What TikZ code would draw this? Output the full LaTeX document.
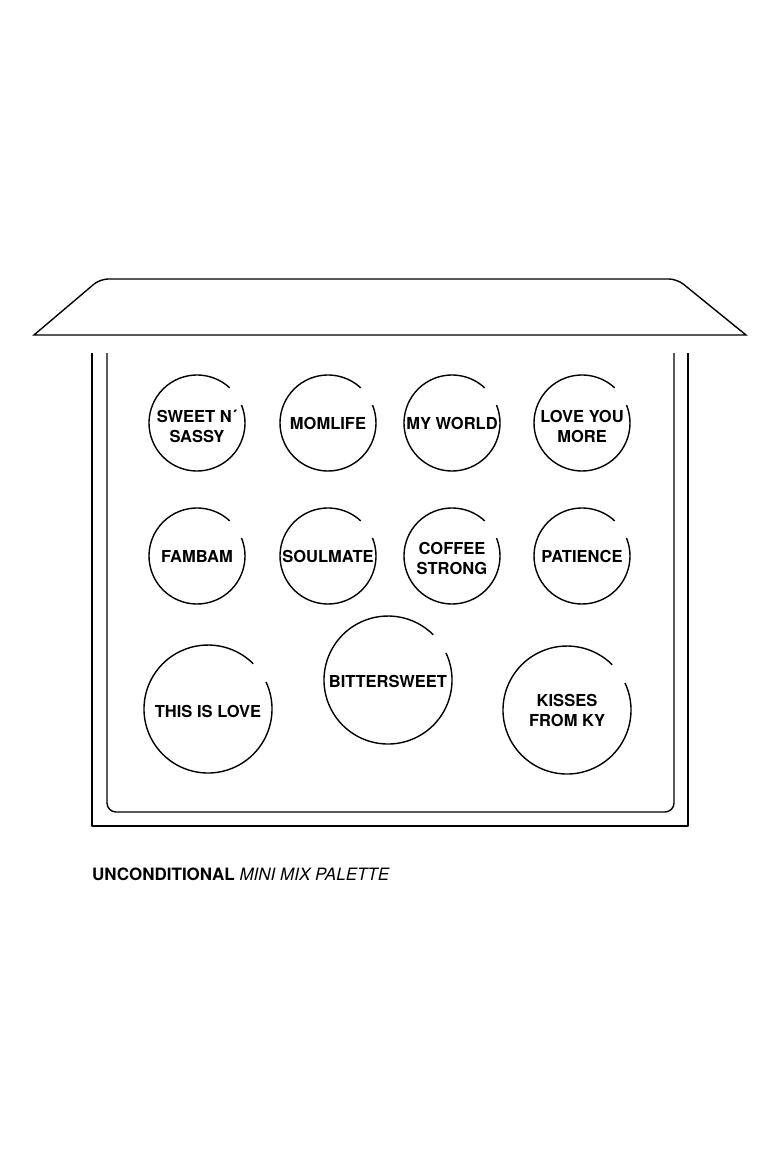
\documentclass[tikz,border=0pt]{standalone}
\usepackage{fontspec}
\setmainfont{TeX Gyre Heros}
\usepackage{tikz}

\tikzset{
  ligne/.style={line width=1.4pt, line join=round},
  nom/.style={align=center, font=\fontsize{16.5}{20}\selectfont\bfseries, inner sep=0pt}
}

\begin{document}
\begin{tikzpicture}[x=1pt,y=-1pt]
        \useasboundingbox (0,0) rectangle (780,1170);

        % Couvercle
        \draw[ligne,line join=miter] (34,335) [rounded corners=8pt]-- (100,279) -- (677,279) [sharp corners]-- (746,335) -- cycle;

        % Boitier
        \draw[ligne] (92,353) -- (92,826) -- (688,826) -- (688,353);
        \draw[ligne,rounded corners=9pt] (107,353) -- (107,812) -- (674,812) -- (674,353);

        % Godets, rangee 1
        \draw[ligne] (197,423) ++(-22:48) arc[start angle=-22, end angle=313, radius=48];
        \draw[ligne] (328,423) ++(-22:48) arc[start angle=-22, end angle=313, radius=48];
        \draw[ligne] (452,423) ++(-22:48) arc[start angle=-22, end angle=313, radius=48];
        \draw[ligne] (582,423) ++(-22:48) arc[start angle=-22, end angle=313, radius=48];
        \node[nom] (sassy) at (197,426) {SWEET N´\\SASSY};
        \node[nom] (momlife) at (328,423) {MOMLIFE};
        \node[nom] (world) at (452,423) {MY WORLD};
        \node[nom] (loveyou) at (582,426) {LOVE YOU\\MORE};

        % Godets, rangee 2
        \draw[ligne] (197,556) ++(-22:48) arc[start angle=-22, end angle=313, radius=48];
        \draw[ligne] (328,556) ++(-22:48) arc[start angle=-22, end angle=313, radius=48];
        \draw[ligne] (452,556) ++(-22:48) arc[start angle=-22, end angle=313, radius=48];
        \draw[ligne] (582,556) ++(-22:48) arc[start angle=-22, end angle=313, radius=48];
        \node[nom] (fambam) at (197,556) {FAMBAM};
        \node[nom] (soulmate) at (328,556) {SOULMATE};
        \node[nom] (coffee) at (452,558) {COFFEE\\STRONG};
        \node[nom] (patience) at (582,556) {PATIENCE};

        % Godets, rangee 3
        \draw[ligne] (208,709) ++(-25:64) arc[start angle=-25, end angle=315, radius=64];
        \draw[ligne] (388,680) ++(-25:64) arc[start angle=-25, end angle=315, radius=64];
        \draw[ligne] (567,710) ++(-25:64) arc[start angle=-25, end angle=315, radius=64];
        \node[nom] (thislove) at (208,711) {THIS IS LOVE};
        \node[nom] (bitter) at (388,681) {BITTERSWEET};
        \node[nom] (kisses) at (567,710) {KISSES\\FROM KY};

        % Legende
        \node[anchor=base west, inner sep=0pt, font=\fontsize{17}{20}\selectfont] (titre) at (92,880) {\textbf{UNCONDITIONAL} \textit{MINI MIX PALETTE}};
    \end{tikzpicture}
\end{document}
